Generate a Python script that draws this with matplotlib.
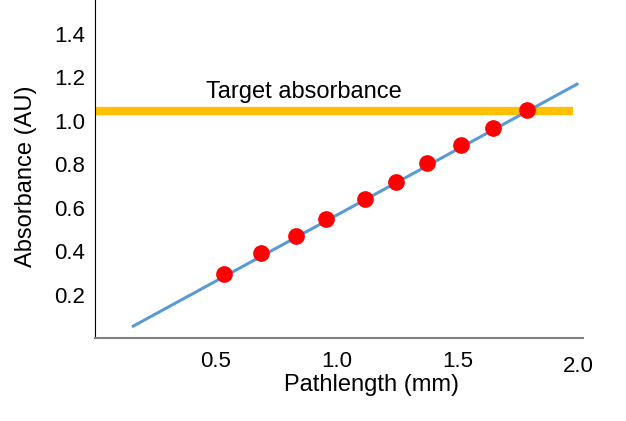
import numpy as np
import matplotlib.pyplot as plt
import matplotlib.transforms as mtransforms

# measured points
path_mm = [0.533, 0.688, 0.833, 0.958, 1.117, 1.246, 1.375, 1.517, 1.650, 1.788]
absorb = [0.294, 0.391, 0.469, 0.547, 0.639, 0.717, 0.805, 0.887, 0.966, 1.048]

# fitted line ends
fit_x = [0.158, 1.996]
fit_y = [0.055, 1.168]

target = 1.044
target_x = [0.0, 1.98]

xticks = [0.5, 1.0, 1.5, 2.0]
yticks = [0.2, 0.4, 0.6, 0.8, 1.0, 1.2, 1.4]

plt.rcParams['font.family'] = ['Liberation Sans', 'DejaVu Sans']

fig = plt.figure(figsize=(6.26, 4.21), dpi=100)
ax = fig.add_axes([0.152, 0.197, 0.779, 0.803])

ax.plot(target_x, [target, target], color='#FFC000', lw=6, solid_capstyle='butt', zorder=1)
ax.plot(fit_x, fit_y, color='#5B9BD5', lw=2.2, zorder=2)
ax.plot(path_mm, absorb, 'o', color='#FF0000', ms=11, zorder=3)

ax.text(0.46, 1.08, 'Target absorbance', fontsize=17, ha='left', va='bottom')

ax.set_xlim(0, 2.02)
ax.set_ylim(0, 1.555)
ax.set_xticks(xticks)
ax.set_xticklabels(['%.1f' % v for v in xticks])
ax.set_yticks(yticks)
ax.set_yticklabels(['%.1f' % v for v in yticks])
ax.tick_params(length=0, labelsize=16)
ax.tick_params(axis='x', pad=9)
ax.tick_params(axis='y', pad=7)

# last x label sits a little lower
lab = ax.get_xticklabels()[-1]
lab.set_transform(lab.get_transform() + mtransforms.ScaledTranslation(0, -5/100, fig.dpi_scale_trans))

ax.spines['top'].set_visible(False)
ax.spines['right'].set_visible(False)
ax.spines['left'].set_color('black')
ax.spines['bottom'].set_color('#808080')
ax.spines['bottom'].set_linewidth(1.5)

fig.text(0.594, 0.085, 'Pathlength (mm)', fontsize=17, ha='center', va='center')
fig.text(0.042, 0.582, 'Absorbance (AU)', fontsize=17, ha='center', va='center', rotation=90)

fig.savefig('out.png', dpi=100)
